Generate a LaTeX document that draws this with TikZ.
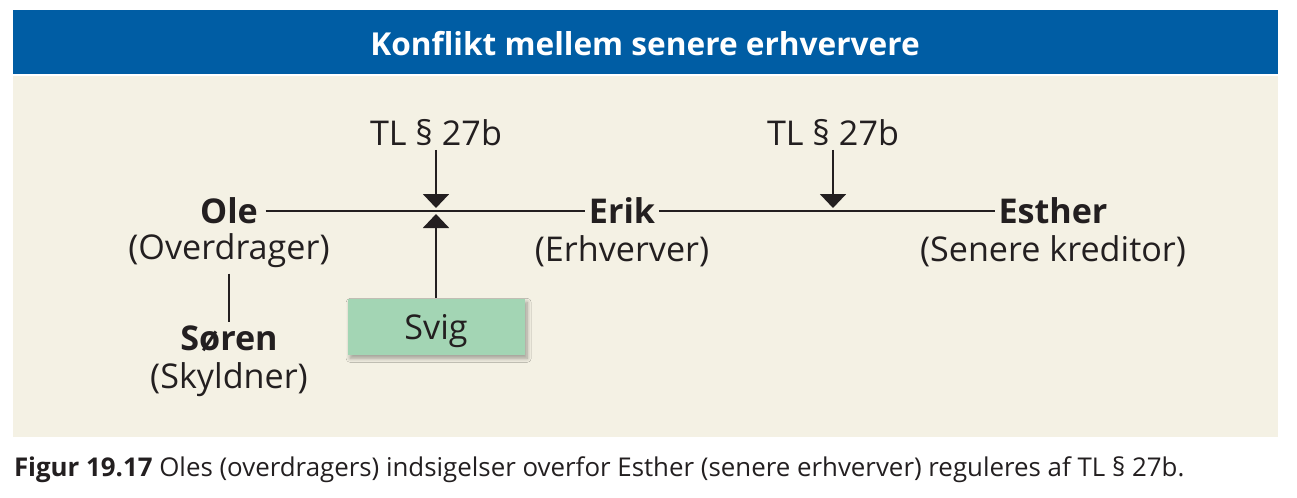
\documentclass[tikz,border=0pt]{standalone}
\usepackage{fontspec}
\setmainfont{Open Sans}
\usetikzlibrary{arrows.meta,shadows.blur}
\definecolor{barblue}{HTML}{005DA4}
\definecolor{panelbeige}{HTML}{F4F1E4}
\definecolor{sviggreen}{HTML}{A3D5B4}
\definecolor{inkdark}{HTML}{231F20}

\begin{document}
\begin{tikzpicture}[x=0.75pt,y=-0.75pt,draw=inkdark,line width=1.5pt]
    \tikzstyle{party}=[font=\fontsize{25.6}{30}\selectfont\bfseries,text=inkdark,inner sep=2pt]
    \tikzstyle{role}=[font=\fontsize{25.6}{30}\selectfont,text=inkdark,inner sep=2pt]
    \tikzstyle{law}=[role]
    \tikzstyle{pointer}=[-{Triangle[width=19.5pt,length=10.5pt]}]
    \tikzstyle{fraud}=[fill=sviggreen,minimum width=132.75pt,minimum height=42pt,
        font=\fontsize{25.6}{30}\selectfont,text=inkdark,inner sep=0pt,text depth=0pt,
        blur shadow={shadow xshift=2pt,shadow yshift=-2.5pt,shadow blur steps=8,shadow blur radius=3pt,shadow opacity=35}]

    \useasboundingbox (0,0) rectangle (1297,497);

    % Background: title bar and panel
    \fill[barblue] (13,10) rectangle (1278,74);
    \fill[panelbeige] (13,76) rectangle (1278,437);
    \node[font=\fontsize{23.7}{28}\selectfont\bfseries,text=white] (title) at (645,44) {Konflikt mellem senere erhververe};

    % Draw the parties
    \node[party] (ole) at (229,211) {Ole};
    \node[role] (ole-r) at (229,251) {(Overdrager)};
    \node[party] (erik) at (622,211) {Erik};
    \node[role] (erik-r) at (622,251) {(Erhverver)};
    \node[party] (esther) at (1053,211) {Esther};
    \node[role] (esther-r) at (1053,251) {(Senere kreditor)};
    \node[party] (soren) at (229,339) {Søren};
    \node[role] (soren-r) at (229,380) {(Skyldner)};

    % Rules and fraud
    \node[law] (tl-1) at (436,133) {TL § 27b};
    \node[law] (tl-2) at (833,133) {TL § 27b};
    \node[fraud] (svig) at (436,327) {Svig};

    % Meeting points on the lines
    \coordinate (j1-top) at (436,208);
    \coordinate (j1-bot) at (436,214);
    \coordinate (j2-top) at (833,208);

    % Connect the parties
    \draw (ole.east) ++(4,0) coordinate (ole-e) -- (ole-e -| erik.west);
    \draw (erik.east) -- (esther.west);
    \draw (ole-r.south) ++(0,2) coordinate (ole-s) -- (ole-s |- soren.north);

    % Arrows to the lines
    \draw[pointer] (tl-1.south) -- (j1-top);
    \draw[pointer] (tl-2.south) -- (j2-top);
    \draw[pointer] (svig.north) -- (j1-bot);

    % Caption
    \node[anchor=base west,font=\fontsize{19.4}{23}\selectfont,text=inkdark,inner sep=0pt] (caption) at (13,476)
        {\textbf{Figur 19.17} Oles (overdragers) indsigelser overfor Esther (senere erhverver) reguleres af TL § 27b.};
\end{tikzpicture}
\end{document}
